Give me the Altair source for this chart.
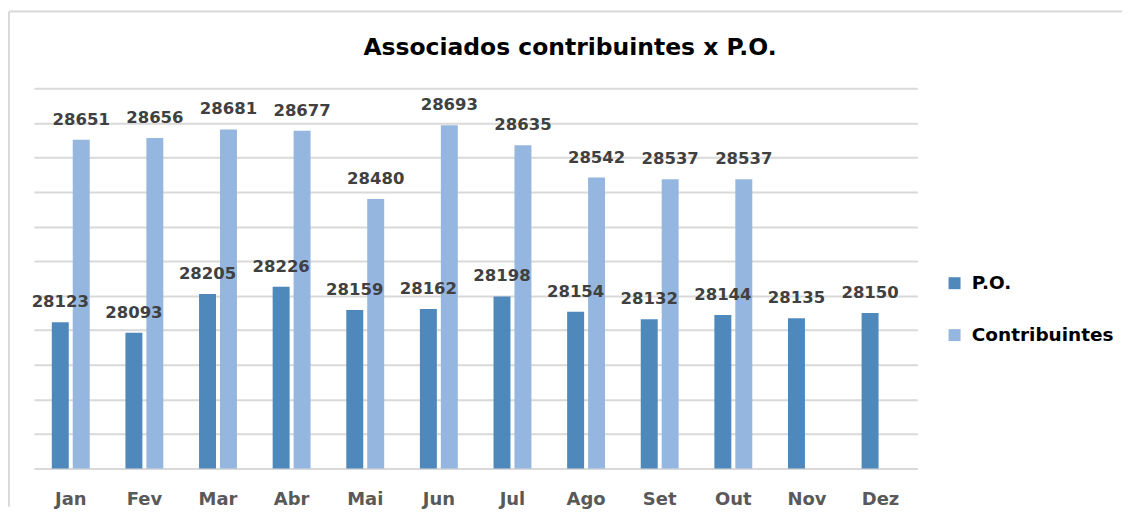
import altair as alt
import pandas as pd

months = ["Jan", "Fev", "Mar", "Abr", "Mai", "Jun", "Jul", "Ago", "Set", "Out", "Nov", "Dez"]
po = [28123, 28093, 28205, 28226, 28159, 28162, 28198, 28154, 28132, 28144, 28135, 28150]
contrib = [28651, 28656, 28681, 28677, 28480, 28693, 28635, 28542, 28537, 28537, None, None]
series = ["P.O.", "Contribuintes"]
colors = ["#4f89bc", "#95b7df"]
y_min, y_max, y_step = 27700, 28800, 100
y_ticks = list(range(y_min, y_max + 1, y_step))
title_text = ["Associados contribuintes x P.O."]

rows = []
for m, p, c in zip(months, po, contrib):
    rows.append({"mes": m, "serie": "P.O.", "valor": p})
    if c is not None:
        rows.append({"mes": m, "serie": "Contribuintes", "valor": c})
df = pd.DataFrame(rows)

W, H = 885, 381
FONT = "DejaVu Sans"

x = alt.X("mes:N", sort=months,
          scale=alt.Scale(paddingInner=0.485, paddingOuter=0.2425),
          axis=alt.Axis(title=None, labelFont=FONT, labelFontWeight="bold", labelFontSize=18,
                        labelColor="#595959", ticks=False, domain=False, labelPadding=22,
                        labelAngle=0))
xo = alt.XOffset("serie:N", sort=series, scale=alt.Scale(paddingInner=0.19, paddingOuter=0))
y = alt.Y("valor:Q", scale=alt.Scale(domain=[y_min, y_max], zero=False, nice=False),
          axis=alt.Axis(title=None, values=y_ticks, labels=False, ticks=False, domain=False,
                        grid=True, gridColor="#d9d9d9", gridWidth=2))
color = alt.Color("serie:N", sort=series,
                  scale=alt.Scale(domain=series, range=colors),
                  legend=alt.Legend(title=None, orient="none", legendX=913, legendY=186,
                                    symbolType="square", symbolSize=144, labelFont=FONT,
                                    labelFontSize=18.5, labelFontWeight="bold", labelColor="#000000",
                                    rowPadding=33, labelOffset=8, symbolStrokeWidth=0))

bars = alt.Chart(df).mark_bar().encode(x=x, xOffset=xo, y=y, y2=alt.datum(y_min), color=color)
labels = alt.Chart(df).mark_text(font=FONT, fontSize=16.5, fontWeight="bold", color="#404040",
                                 dy=-15, baseline="alphabetic").encode(
    x=x, xOffset=xo, y=y, text=alt.Text("valor:Q", format="d"))

one = pd.DataFrame({"a": [0]})
border_top = alt.Chart(one).mark_rule(color="#d9d9d9", strokeWidth=2).encode(
    x=alt.value(-25), x2=alt.value(1090), y=alt.value(-77))
border_left = alt.Chart(one).mark_rule(color="#d9d9d9", strokeWidth=2).encode(
    x=alt.value(-25), y=alt.value(-77), y2=alt.value(419))

title = alt.Chart(pd.DataFrame({"t": title_text})).mark_text(
    font=FONT, fontSize=23.5, fontWeight="bold", color="#000000",
    align="center", baseline="alphabetic").encode(
    x=alt.value(537), y=alt.value(-33), text="t:N")

chart = alt.layer(border_top, border_left, title, bars, labels).properties(
    width=W, height=H,
    padding={"left": 0, "top": 2, "right": 0, "bottom": 0},
    background="white",
).configure_view(stroke=None)

chart.save("out.html", embed_options={"renderer": "svg", "actions": False})
